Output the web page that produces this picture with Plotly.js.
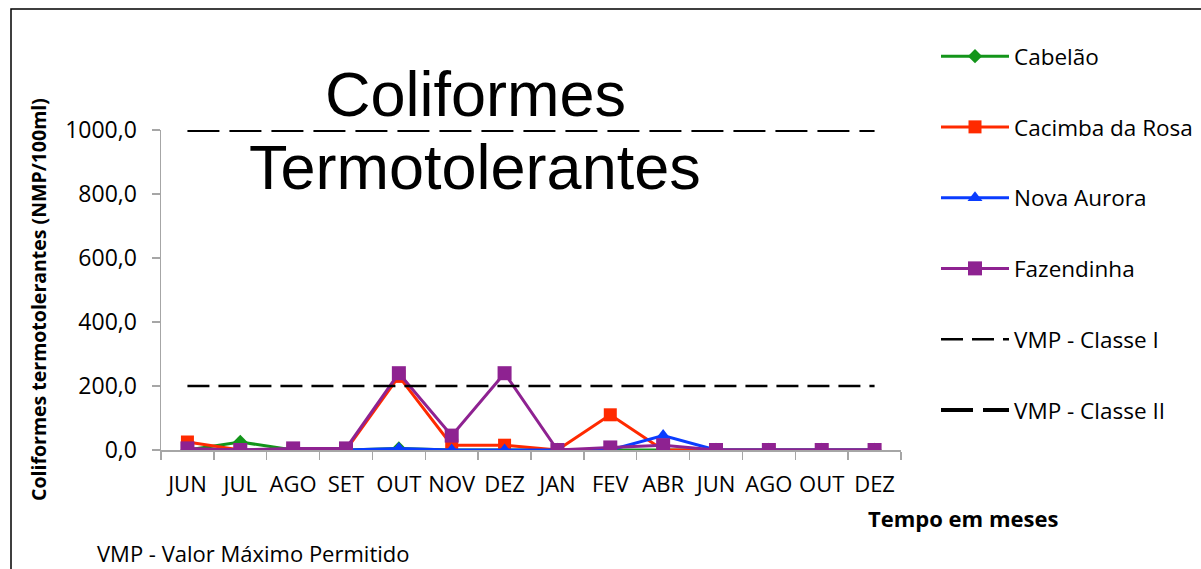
<!DOCTYPE html>
<html>
<head>
<meta charset="utf-8">
<script src="https://cdn.plot.ly/plotly-3.0.1.min.js"></script>
<style>html,body{margin:0;padding:0;background:#fff;}#chart{width:1201px;height:569px;}</style>
</head>
<body>
<div id="chart"></div>
<script>
var months = ["JUN","JUL","AGO","SET","OUT","NOV","DEZ","JAN","FEV","ABR","JUN","AGO","OUT","DEZ"];
var cabelao = [0, 25, 0, 0, 5, 0, 0, 0, 0, 0, 0, 0, 0, 0];
var cacimbaDaRosa = [25, 0, 0, 0, 230, 15, 15, 0, 110, 0, 0, 0, 0, 0];
var novaAurora = [0, 0, 0, 0, 5, 0, 0, 0, 0, 45, 0, 0, 0, 0];
var fazendinha = [5, 0, 5, 5, 240, 45, 240, 0, 8, 15, 0, 0, 0, 0];
var vmpClasseI = 200;
var vmpClasseII = 1000;

var idx = months.map(function(_, i){ return i; });
var W = 1201, H = 569;
var L = 161, R = 300, T = 130, B = 119;
var pw = W - L - R, ph = H - T - B;
function px(x){ return (x - L) / pw; }
function py(y){ return (H - B - y) / ph; }

var FONT = "Open Sans, Noto Sans, sans-serif";

function series(name, y, color, symbol, size){
  return {x: idx, y: y, name: name, type: 'scatter', mode: 'lines+markers',
    line: {color: color, width: 3},
    marker: {color: color, symbol: symbol, size: size, line: {width: 0}},
    legendgroup: name};
}
var traces = [
  series('Cabelão', cabelao, '#13951a', 'diamond', 11),
  series('Cacimba da Rosa', cacimbaDaRosa, '#ff2a00', 'square', 13),
  series('Nova Aurora', novaAurora, '#0a3cff', 'triangle-up', 13),
  series('Fazendinha', fazendinha, '#8e2291', 'square', 14),
  {x: idx, y: idx.map(function(){ return vmpClasseI; }), name: 'VMP - Classe I', type: 'scatter', mode: 'lines',
   line: {color: '#000', width: 2.5, dash: '22px,9px'}, legendgroup: 'c1'},
  {x: idx, y: idx.map(function(){ return vmpClasseII; }), name: 'VMP - Classe II', type: 'scatter', mode: 'lines',
   line: {color: '#000', width: 4, dash: '32px,10px'}, legendgroup: 'c2'}
];

var layout = {
  width: W, height: H,
  margin: {l: L, r: R, t: T, b: B, autoexpand: false},
  paper_bgcolor: '#fff', plot_bgcolor: '#fff',
  separators: ',.',
  font: {family: FONT, size: 23, color: '#000'},
  showlegend: true,
  legend: {x: px(936), y: py(35), xanchor: 'left', yanchor: 'top',
    font: {family: FONT, size: 22.5, color: '#000'},
    traceorder: 'grouped', tracegroupgap: 38.5, bgcolor: 'rgba(0,0,0,0)', itemwidth: 68,
    maxheight: 560},
  xaxis: {range: [-0.5, 13.5], tickmode: 'array', tickvals: idx, ticktext: months,
    ticks: '', showgrid: false, zeroline: false, showline: true, linecolor: '#a6a6a6', linewidth: 1.5,
    tickfont: {family: FONT, size: 22, color: '#000'}, ticklabelstandoff: 14,
    minor: {tickmode: 'linear', tick0: -0.5, dtick: 1, ticks: 'outside', ticklen: 8, tickcolor: '#a6a6a6', tickwidth: 1.5, showgrid: false},
    fixedrange: true},
  yaxis: {range: [0, 1000], tickvals: [0,200,400,600,800,1000], tickformat: '.1f',
    ticks: 'outside', ticklen: 8, tickcolor: '#a6a6a6', tickwidth: 1.5,
    showgrid: false, zeroline: false, showline: true, linecolor: '#a6a6a6', linewidth: 1.5,
    tickfont: {family: FONT, size: 23, color: '#000'}, ticklabelstandoff: 10, fixedrange: true},
  shapes: [
    {type: 'rect', xref: 'paper', yref: 'paper', x0: px(11), x1: px(1230), y0: py(9), y1: py(600),
     line: {color: '#000', width: 1.5}, fillcolor: 'rgba(0,0,0,0)', layer: 'below'}
  ],
  annotations: [
    {text: 'Coliformes', xref: 'paper', yref: 'paper', x: px(475), y: py(94), xanchor: 'center', yanchor: 'middle',
     showarrow: false, font: {family: 'Liberation Sans, Arial, sans-serif', size: 63, color: '#000'}},
    {text: 'Termotolerantes', xref: 'paper', yref: 'paper', x: px(475), y: py(167), xanchor: 'center', yanchor: 'middle',
     showarrow: false, font: {family: 'Liberation Sans, Arial, sans-serif', size: 63, color: '#000'}},
    {text: '<b>Coliformes termotolerantes (NMP/100ml)</b>', xref: 'paper', yref: 'paper', x: px(38), y: py(300),
     xanchor: 'center', yanchor: 'middle', textangle: -90, showarrow: false, font: {family: FONT, size: 19.5, color: '#000'}},
    {text: '<b>Tempo em meses</b>', xref: 'paper', yref: 'paper', x: px(963), y: py(518), xanchor: 'center', yanchor: 'middle',
     showarrow: false, font: {family: FONT, size: 22, color: '#000'}},
    {text: 'VMP - Valor Máximo Permitido', xref: 'paper', yref: 'paper', x: px(95), y: py(553), xanchor: 'left', yanchor: 'middle',
     showarrow: false, font: {family: FONT, size: 22, color: '#000'}}
  ]
};

Plotly.newPlot('chart', traces, layout, {displayModeBar: false, staticPlot: true});
</script>
</body>
</html>
